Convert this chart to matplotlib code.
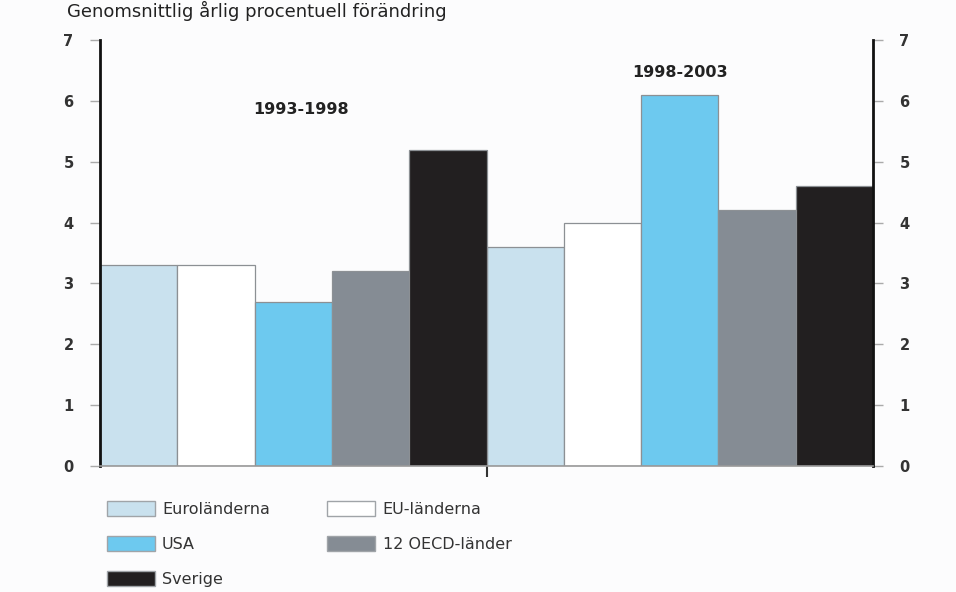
import matplotlib.pyplot as plt
from matplotlib.patches import Patch

# average annual percentage change
periods = ["1993-1998", "1998-2003"]
series_names = ["Euroländerna", "EU-länderna", "USA", "12 OECD-länder", "Sverige"]
euro = [3.3, 3.6]
eu = [3.3, 4.0]
usa = [2.7, 6.1]
oecd = [3.2, 4.2]
sverige = [5.2, 4.6]
yticks = [0, 1, 2, 3, 4, 5, 6, 7]

colors = ["#c9e1ee", "#ffffff", "#6dc9ef", "#858c94", "#221f20"]
values = [euro, eu, usa, oecd, sverige]

fig = plt.figure(figsize=(9.56, 5.92), dpi=100)
fig.patch.set_facecolor("#fcfcfd")
ax = fig.add_axes([100 / 956, 1 - 466 / 592, 773 / 956, 426 / 592])
ax.set_facecolor("#fcfcfd")

n = len(series_names)
for j, (vals, col) in enumerate(zip(values, colors)):
    xs = [i * n + j for i in range(len(periods))]
    ax.bar(xs, vals, width=1.0, color=col, edgecolor="#8c9094", linewidth=0.9,
           zorder=2)

ax.set_xlim(-0.5, len(periods) * n - 0.5)
ax.set_ylim(0, 7)
ax.set_yticks(yticks)
ax.set_yticklabels([str(t) for t in yticks], fontweight="bold", color="#333333")
ax.tick_params(axis="y", which="both", left=True, right=True, labelleft=True,
               labelright=True, length=7, width=1, color="#aaaaaa", pad=12,
               labelsize=10.5)
ax.set_xticks([n - 0.5])
ax.set_xticklabels([""])
ax.tick_params(axis="x", length=8, width=1.5, color="#333333")

ax.spines["top"].set_visible(False)
ax.spines["left"].set_linewidth(2)
ax.spines["left"].set_color("#111111")
ax.spines["right"].set_linewidth(2)
ax.spines["right"].set_color("#111111")
ax.spines["bottom"].set_color("#999999")
ax.spines["bottom"].set_linewidth(1.2)

# period labels above each group
ax.text(2.1, 5.85, periods[0], ha="center", va="center", fontweight="bold",
        fontsize=11.5, color="#222222")
ax.text(7.0, 6.47, periods[1], ha="center", va="center", fontweight="bold",
        fontsize=11.5, color="#222222")

fig.text(67 / 956, 1 - 17 / 592, "Genomsnittlig årlig procentuell förändring",
         ha="left", va="baseline", fontsize=13, color="#222222")

order = [0, 2, 4, 1, 3]
handles = [Patch(facecolor=colors[k], edgecolor="#a0a4a8", linewidth=1.0) for k in order]
labels = [series_names[k] for k in order]
fig.legend(handles, labels, loc="upper left",
           bbox_to_anchor=(107 / 956, 1 - 501 / 592), ncol=2, frameon=False,
           fontsize=11.5, handlelength=3.0, handleheight=1.05, handletextpad=0.45,
           labelspacing=1.2, columnspacing=3.6, borderpad=0, borderaxespad=0,
           labelcolor="#333333")

fig.savefig("out.png", dpi=100, facecolor=fig.get_facecolor())
